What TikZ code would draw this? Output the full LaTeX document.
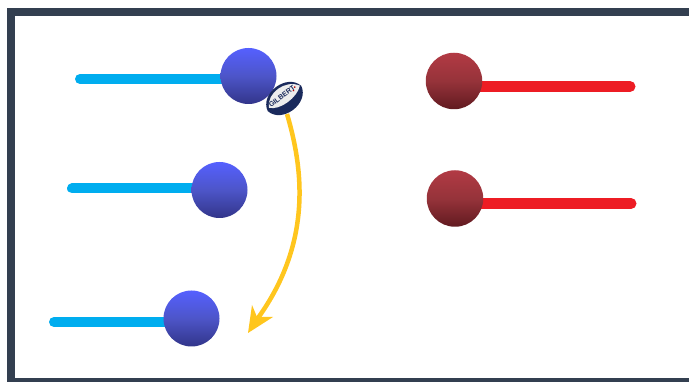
\documentclass[tikz,border=0pt]{standalone}
\usepackage{fontspec}
\setmainfont{Liberation Sans}
\definecolor{framecol}{HTML}{333F50}
\definecolor{bluebar}{HTML}{00ADEF}
\definecolor{redbar}{HTML}{ED1C24}
\definecolor{goldarrow}{HTML}{FFC61E}
\definecolor{ballnavy}{HTML}{1A2A5C}
\definecolor{discbluetop}{HTML}{5560FF}
\definecolor{discbluemid}{HTML}{4D55C8}
\definecolor{discbluebot}{HTML}{32358A}
\definecolor{discredtop}{HTML}{B23A44}
\definecolor{discredmid}{HTML}{96333A}
\definecolor{discredbot}{HTML}{611A20}
\tikzset{
  bluebarline/.style={line width=10pt,line cap=round,draw=bluebar},
  redbarline/.style={line width=11pt,line cap=round,draw=redbar},
  bluedisc/.style={circle,minimum size=56pt,inner sep=0pt,top color=discbluetop,bottom color=discbluebot,middle color=discbluemid},
  reddisc/.style={circle,minimum size=56.5pt,inner sep=0pt,top color=discredtop,bottom color=discredbot,middle color=discredmid},
}
\begin{document}
\begin{tikzpicture}[x=1pt,y=-1pt]
\useasboundingbox (0,0) rectangle (689,382);
\fill[white] (0,0) rectangle (689,382);
\draw[framecol,line width=8pt] (11,12) rectangle (695,382);
\coordinate (b1end) at (80,79);
\coordinate (b2end) at (72,188.5);
\coordinate (b3end) at (54,322);
\coordinate (r1end) at (630,86.5);
\coordinate (r2end) at (631,203.5);
\coordinate (b1c) at (248.5,79);
\coordinate (b2c) at (219.5,188.5);
\coordinate (b3c) at (191.5,322);
\coordinate (r1c) at (454,86.5);
\coordinate (r2c) at (455,203.5);
\draw[bluebarline] (b1end) -- (b1c);
\draw[bluebarline] (b2end) -- (b2c);
\draw[bluebarline] (b3end) -- (b3c);
\draw[redbarline] (r1end) -- (r1c);
\draw[redbarline] (r2end) -- (r2c);
\node[bluedisc] (b1) at (248.5,76) {};
\node[bluedisc] (b2) at (219.5,190) {};
\node[bluedisc] (b3) at (191.5,318.5) {};
\node[reddisc] (r1) at (454,81) {};
\node[reddisc] (r2) at (455,198.5) {};
% ball
\begin{scope}[shift={(284.5,98.5)},rotate=37]
\fill[ballnavy] (-21,0) .. controls (-17,-19) and (17,-19) .. (21,0) .. controls (17,19) and (-17,19) .. (-21,0) -- cycle;
\fill[white!93!black] (-18,-2) .. controls (-11,-15) and (12,-15) .. (20,-1) .. controls (11,7) and (-11,7) .. (-18,-2) -- cycle;
\fill[red!70!black] (15,-3) circle (1) (12,-1) circle (1);
\node[font=\bfseries\fontsize{7}{7}\selectfont,text=ballnavy,inner sep=0pt,rotate=37] at (-1,-3) {GILBERT};
\end{scope}
% pass arrow
\coordinate (passstart) at (287,114);
\coordinate (passend) at (248,333);
\draw[goldarrow,line width=4.5pt] (passstart) .. controls (302,165) and (314,240) .. (258,318);
\fill[goldarrow] (passend) -- (252,305) -- (257,317) -- (273,317) -- cycle;
\end{tikzpicture}
\end{document}
